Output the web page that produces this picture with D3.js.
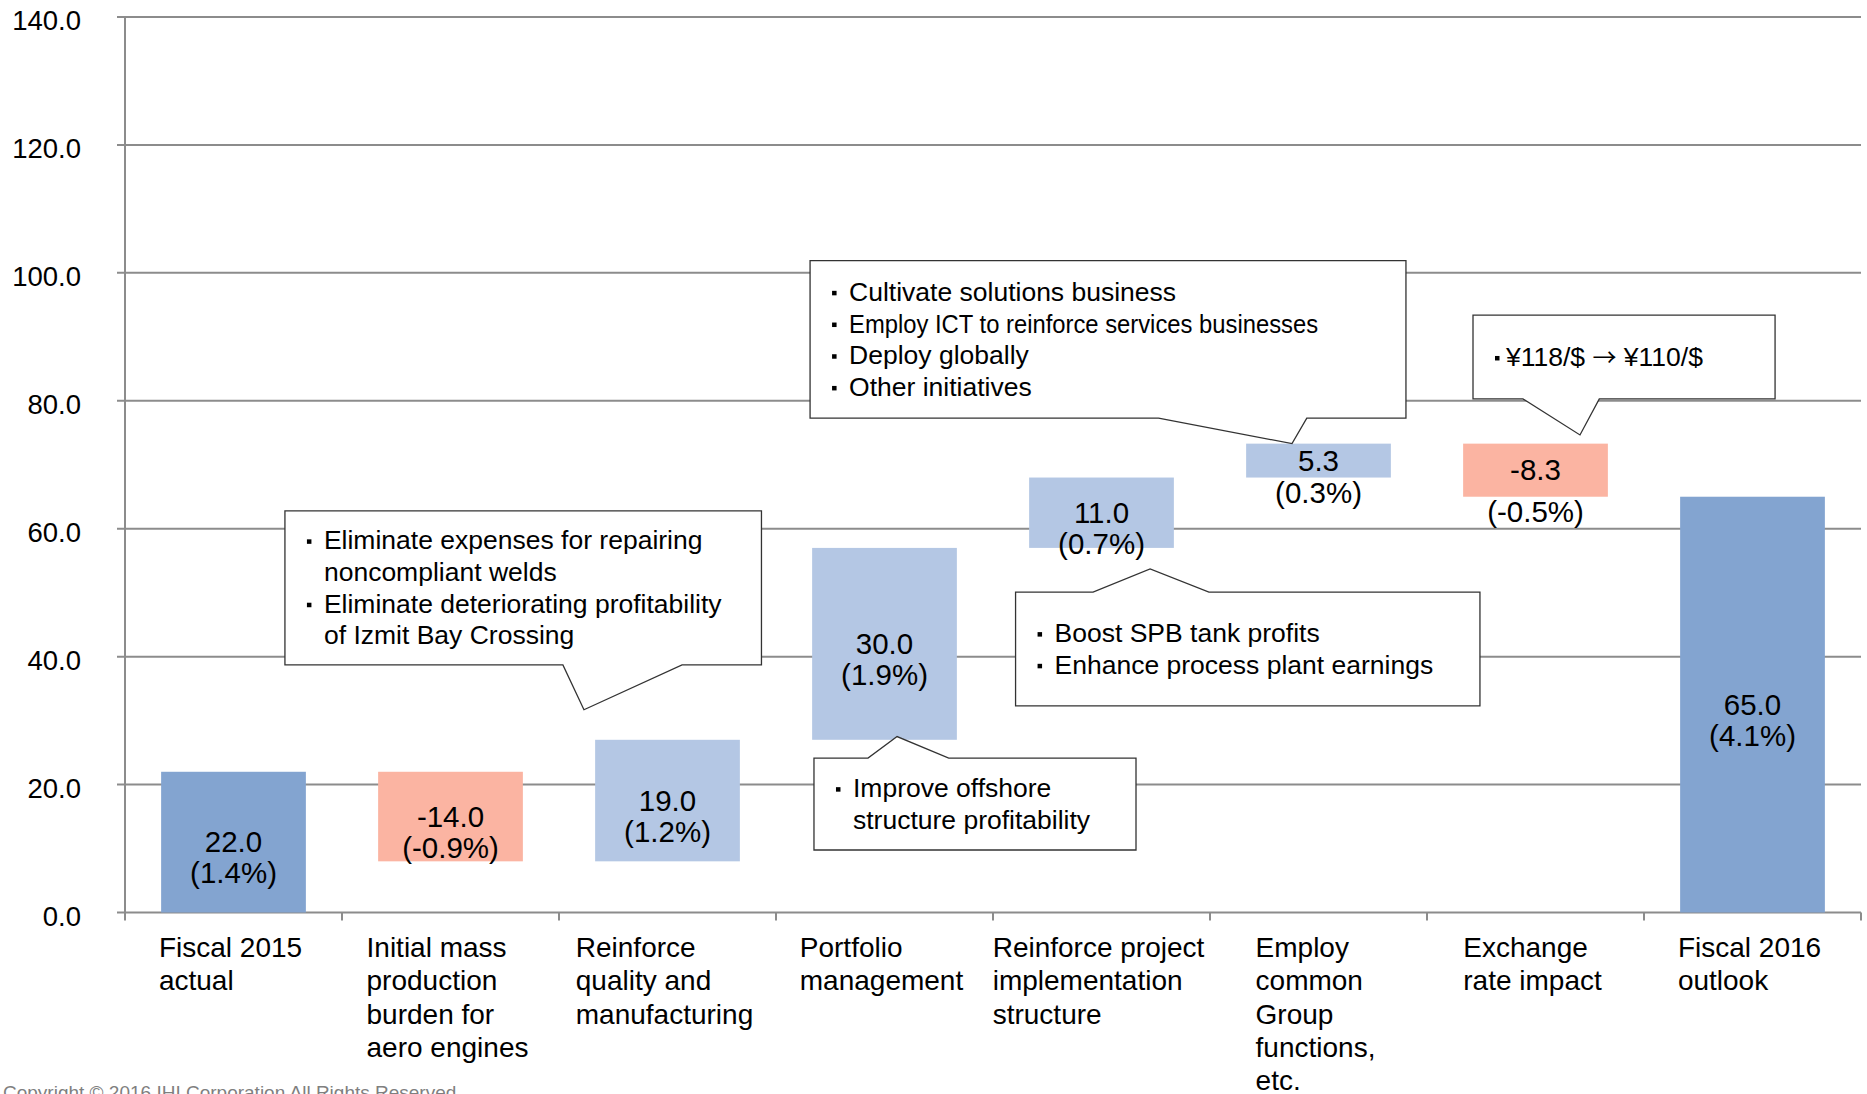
<!DOCTYPE html>
<html>
<head>
<meta charset="utf-8">
<script src="https://cdn.jsdelivr.net/npm/d3@7"></script>
<style>
  body { margin: 0; background: #fff; }
  svg { display: block; font-family: "Liberation Sans", Arial, "Noto Sans CJK JP", sans-serif; }
</style>
</head>
<body>
<svg id="chart" width="1867" height="1094"></svg>
<script>
// ---- data ----
const categories = ["fy2015", "aero", "quality", "portfolio", "project", "common", "fx", "fy2016"];
const categoryLines = [
  ["Fiscal 2015", "actual"],
  ["Initial mass", "production", "burden for", "aero engines"],
  ["Reinforce", "quality and", "manufacturing"],
  ["Portfolio", "management"],
  ["Reinforce project", "implementation", "structure"],
  ["Employ", "common", "Group", "functions,", "etc."],
  ["Exchange", "rate impact"],
  ["Fiscal 2016", "outlook"]
];
const values = [22.0, -14.0, 19.0, 30.0, 11.0, 5.3, -8.3, 65.0];
const isTotal = [true, false, false, false, false, false, false, true];
const percents = ["(1.4%)", "(-0.9%)", "(1.2%)", "(1.9%)", "(0.7%)", "(0.3%)", "(-0.5%)", "(4.1%)"];
const yTicks = [0, 20, 40, 60, 80, 100, 120, 140];

// callouts: x in category-index units, y in chart value units
const callouts = [
  { box: [0.737, 62.8, 2.933, 38.7], side: "bottom", base: [2.018, 2.567], tip: [2.115, 31.7],
    lines: [[true, "Eliminate expenses for repairing"], [false, "noncompliant welds"],
            [true, "Eliminate deteriorating profitability"], [false, "of Izmit Bay Crossing"]] },
  { box: [3.157, 101.9, 5.903, 77.3], side: "bottom", base: [4.763, 5.446], tip: [5.378, 73.3],
    lines: [[true, "Cultivate solutions business"], [true, "Employ ICT to reinforce services businesses"],
            [true, "Deploy globally"], [true, "Other initiatives"]] },
  { box: [4.104, 50.1, 6.244, 32.3], side: "top", base: [4.461, 4.995], tip: [4.724, 53.7],
    lines: [[true, "Boost SPB tank profits"], [true, "Enhance process plant earnings"]] },
  { box: [3.175, 24.15, 4.659, 9.77], side: "top", base: [3.424, 3.796], tip: [3.558, 27.5],
    lines: [[true, "Improve offshore"], [false, "structure profitability"]] },
  { box: [6.212, 93.4, 7.604, 80.3], side: "bottom", base: [6.442, 6.794], tip: [6.705, 74.66],
    lines: [[true, "¥118/$ → ¥110/$"]], gap: 9 }
];

// ---- layout ----
const svg = d3.select("#chart");
const plotLeft = 125, plotRight = 1861, plotTop = 17, plotBottom = 912.5;

const x = d3.scaleBand().domain(categories).range([plotLeft, plotRight]).paddingInner(0.333).paddingOuter(0.1665);
const xi = d3.scaleLinear().domain([0, categories.length]).range([plotLeft, plotRight]);
const y = d3.scaleLinear().domain([0, 140]).range([plotBottom, plotTop]);

const colors = { total: "#83A4D0", up: "#B4C7E4", down: "#FBB4A2" };
// the long line in the top callout is set tighter in the original
const condensed = { "Employ ICT to reinforce services businesses": 469 };

// waterfall start/end
let running = 0;
const bars = categories.map((c, i) => {
  let lo, hi, kind;
  if (isTotal[i]) {
    lo = 0; hi = values[i]; running = values[i]; kind = "total";
  } else {
    const start = running;
    running += values[i];
    lo = Math.min(start, running); hi = Math.max(start, running);
    kind = values[i] >= 0 ? "up" : "down";
  }
  return { cat: c, i, lo, hi, kind, value: values[i], pct: percents[i] };
});

// gridlines
svg.append("g")
  .selectAll("line")
  .data(yTicks)
  .join("line")
  .attr("x1", plotLeft - 8).attr("x2", plotRight)
  .attr("y1", d => y(d)).attr("y2", d => y(d))
  .attr("stroke", "#8c8c8c").attr("stroke-width", 2);

// y axis line
svg.append("line")
  .attr("x1", plotLeft).attr("x2", plotLeft)
  .attr("y1", y(140)).attr("y2", plotBottom)
  .attr("stroke", "#8c8c8c").attr("stroke-width", 2);

// y tick labels
svg.append("g")
  .selectAll("text")
  .data(yTicks)
  .join("text")
  .attr("x", 81)
  .attr("y", d => y(d) + 13)
  .attr("text-anchor", "end")
  .attr("font-size", 27.5)
  .attr("fill", "#000")
  .text(d => d.toFixed(1));

// x ticks at category boundaries
svg.append("g")
  .selectAll("line")
  .data(d3.range(categories.length + 1))
  .join("line")
  .attr("x1", d => xi(d)).attr("x2", d => xi(d))
  .attr("y1", plotBottom).attr("y2", plotBottom + 8)
  .attr("stroke", "#8c8c8c").attr("stroke-width", 2);

// bars
svg.append("g")
  .selectAll("rect")
  .data(bars)
  .join("rect")
  .attr("x", d => x(d.cat))
  .attr("width", x.bandwidth())
  .attr("y", d => y(d.hi))
  .attr("height", d => y(d.lo) - y(d.hi))
  .attr("fill", d => colors[d.kind]);

// callouts
function calloutPath(c) {
  const x0 = xi(c.box[0]), y0 = y(c.box[1]), x1 = xi(c.box[2]), y1 = y(c.box[3]);
  const b0 = xi(c.base[0]), b1 = xi(c.base[1]);
  const tx = xi(c.tip[0]), ty = y(c.tip[1]);
  if (c.side === "bottom") {
    return `M${x0},${y0}H${x1}V${y1}H${b1}L${tx},${ty}L${b0},${y1}H${x0}Z`;
  }
  return `M${x0},${y0}H${b0}L${tx},${ty}L${b1},${y0}H${x1}V${y1}H${x0}Z`;
}

const cg = svg.append("g").selectAll("g").data(callouts).join("g");
cg.append("path")
  .attr("d", calloutPath)
  .attr("fill", "#fff")
  .attr("stroke", "#333")
  .attr("stroke-width", 1.3);

cg.each(function (c) {
  const g = d3.select(this);
  const bx = xi(c.box[0]) + 24;
  const cy = (y(c.box[1]) + y(c.box[3])) / 2 + 9;
  const lh = 31.7;
  const n = c.lines.length;
  const gap = c.gap || 15;
  c.lines.forEach((ln, k) => {
    const by = cy + (k - (n - 1) / 2) * lh;
    if (ln[0]) {
      g.append("rect")
        .attr("x", bx - 2).attr("y", by - 10)
        .attr("width", 4.5).attr("height", 4.5)
        .attr("fill", "#000");
    }
    const t = g.append("text")
      .attr("x", bx + gap)
      .attr("y", by)
      .attr("font-size", 26.5)
      .attr("fill", "#000");
    // arrows come out bigger in the CJK font, as in the original
    ln[1].split("→").forEach((part, j) => {
      if (j > 0) t.append("tspan").attr("font-family", "Noto Sans CJK JP").attr("font-size", 24).text("→");
      t.append("tspan").text(part);
    });
    if (condensed[ln[1]]) t.attr("textLength", condensed[ln[1]]).attr("lengthAdjust", "spacingAndGlyphs");
  });
});

// value labels
const vl = svg.append("g").selectAll("g").data(bars).join("g")
  .attr("transform", d => `translate(${x(d.cat) + x.bandwidth() / 2},${(y(d.lo) + y(d.hi)) / 2})`);
vl.append("text")
  .attr("y", 10)
  .attr("text-anchor", "middle")
  .attr("font-size", 29.5)
  .attr("fill", "#000")
  .text(d => d.value.toFixed(1));
vl.append("text")
  .attr("y", d => {
    const h = y(d.lo) - y(d.hi);
    return h < 60 ? h / 2 + 25 : 41;   // short bars: percentage sits under the bar
  })
  .attr("text-anchor", "middle")
  .attr("font-size", 29.5)
  .attr("fill", "#000")
  .text(d => d.pct);

// category labels: block centred in band, lines left-aligned
const cl = svg.append("g").selectAll("text").data(categories).join("text")
  .attr("font-size", 28)
  .attr("fill", "#000");
cl.each(function (c, i) {
  const t = d3.select(this);
  categoryLines[i].forEach((s, k) => {
    t.append("tspan").attr("y", 957 + k * 33.3).text(s);
  });
  let w = 0;
  t.selectAll("tspan").each(function () { w = Math.max(w, this.getComputedTextLength()); });
  const x0 = x(c) + x.bandwidth() / 2 - w / 2 - 3;
  t.selectAll("tspan").attr("x", x0);
});

// footer
svg.append("text")
  .attr("x", 3).attr("y", 1099)
  .attr("font-size", 19)
  .attr("fill", "#7f7f7f")
  .text("Copyright © 2016 IHI Corporation All Rights Reserved");
</script>
</body>
</html>
